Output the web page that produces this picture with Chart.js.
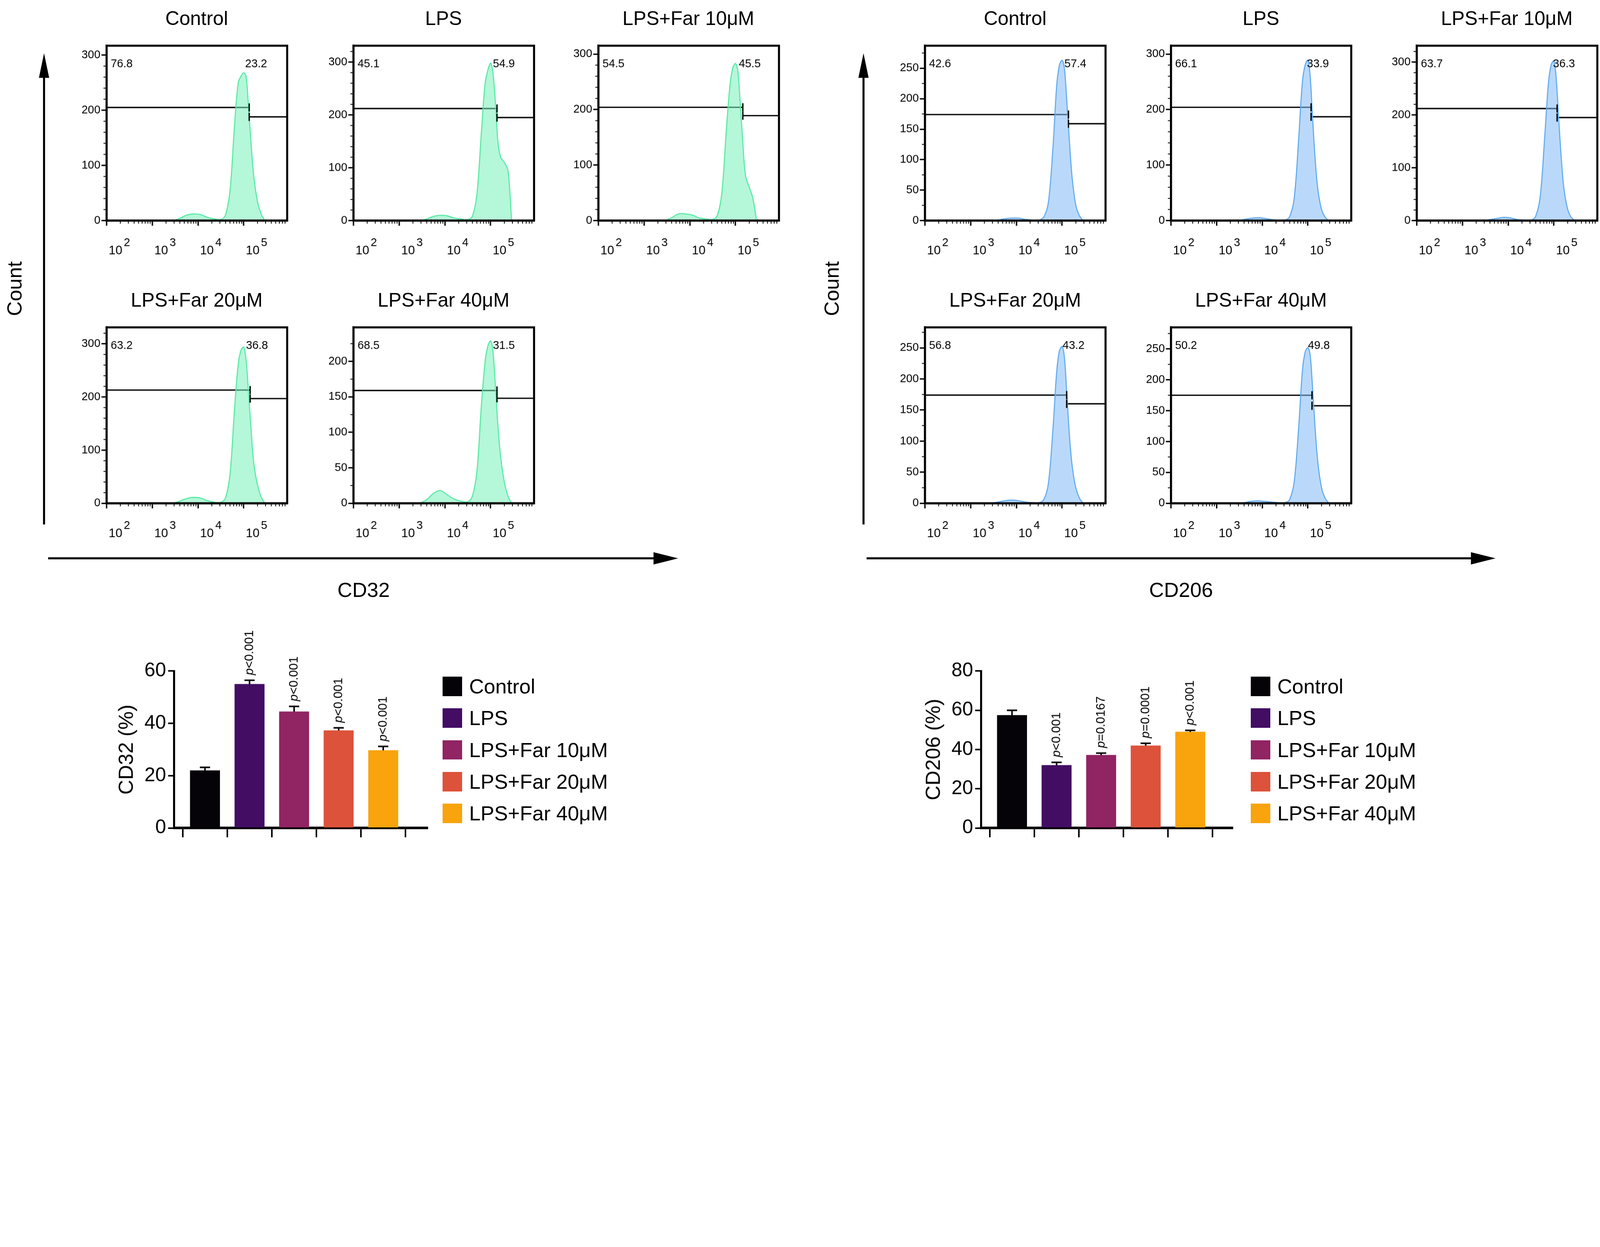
<!DOCTYPE html>
<html>
<head>
<meta charset="utf-8">
<script src="https://cdn.jsdelivr.net/npm/chart.js@4"></script>
<style>
  html, body { margin: 0; padding: 0; background: #fff; overflow: hidden; }
  body { position: relative; font-family: "Liberation Sans", Arial, sans-serif; color: #000; }
  .box { position: absolute; }
  .txt { position: absolute; white-space: nowrap; }
</style>
</head>
<body>
<svg id="arrows" style="position:absolute;left:0;top:0"></svg>
<script>
// reference drawn at 1562 x 820; scale to the real CSS viewport
const S = window.innerWidth / 1562;
const px = v => v * S;
const pageH = Math.round(window.innerWidth * 3192 / 6072);
document.documentElement.style.height = pageH + 'px';
document.body.style.width = window.innerWidth + 'px';
document.body.style.height = pageH + 'px';

// ---- histogram data (x in log10 units) ----
const histX = [3.45, 3.6, 3.75, 3.9, 4.05, 4.2, 4.35, 4.5, 4.6, 4.7, 4.8, 4.88, 4.94, 5.0, 5.05, 5.1, 5.16, 5.22, 5.3, 5.38, 5.46];
const groups = ['Control', 'LPS', 'LPS+Far 10μM', 'LPS+Far 20μM', 'LPS+Far 40μM'];

const cd32Counts = [
  [0, 4, 10, 12, 11, 6, 3, 2, 10, 55, 175, 250, 262, 268, 262, 212, 140, 80, 35, 12, 0],
  [0, 3, 8, 10, 9, 5, 3, 2, 8, 50, 170, 260, 285, 298, 280, 230, 150, 120, 110, 95, 0],
  [0, 5, 12, 12, 10, 5, 3, 2, 9, 50, 165, 245, 275, 283, 270, 215, 140, 80, 60, 40, 0],
  [0, 4, 9, 11, 10, 5, 2, 2, 10, 55, 180, 262, 288, 294, 270, 215, 140, 75, 35, 12, 0],
  [0, 5, 14, 18, 12, 6, 3, 2, 10, 45, 140, 200, 222, 229, 215, 170, 110, 65, 30, 10, 0]
];
const cd32Left = ['76.8', '45.1', '54.5', '63.2', '68.5'];
const cd32Right = ['23.2', '54.9', '45.5', '36.8', '31.5'];
const cd32Max = [317, 331, 315, 331, 248];
const cd32Step = [100, 100, 100, 100, 50];
const cd32GateX = [5.12, 5.14, 5.16, 5.14, 5.14];
const cd32GateL = [205, 212, 204, 213, 159];
const cd32GateR = [188, 195, 189, 197, 148];

const cd206Counts = [
  [0, 1, 3, 4, 4, 2, 1, 1, 6, 30, 120, 220, 255, 263, 250, 200, 130, 70, 25, 8, 0],
  [0, 2, 4, 5, 4, 2, 1, 1, 7, 40, 150, 250, 280, 289, 260, 190, 110, 55, 20, 6, 0],
  [0, 2, 4, 6, 5, 2, 1, 1, 8, 45, 160, 260, 295, 302, 270, 200, 120, 60, 22, 6, 0],
  [0, 2, 4, 5, 4, 2, 1, 1, 6, 32, 120, 210, 245, 252, 235, 180, 110, 60, 25, 8, 0],
  [0, 1, 3, 4, 3, 2, 1, 1, 6, 35, 125, 215, 245, 252, 240, 190, 120, 65, 25, 8, 0]
];
const cd206Left = ['42.6', '66.1', '63.7', '56.8', '50.2'];
const cd206Right = ['57.4', '33.9', '36.3', '43.2', '49.8'];
const cd206Max = [287, 315, 331, 283, 285];
const cd206Step = [50, 100, 100, 50, 50];
const cd206GateX = [5.14, 5.07, 5.07, 5.10, 5.09];
const cd206GateL = [174, 204, 212, 174, 175];
const cd206GateR = [159, 187, 195, 160, 158];

const xDecades = [2, 3, 4, 5];

// ---- bar data ----
const cd32Pct = [22, 55, 44.5, 37.3, 29.7];
const cd32Err = [1.2, 1.5, 2.0, 1.0, 1.5];
const cd32P = ['<0.001', '<0.001', '<0.001', '<0.001'];
const cd206Pct = [57.5, 32, 37.2, 42, 49];
const cd206Err = [2.5, 1.5, 1.0, 1.2, 0.8];
const cd206P = ['<0.001', '=0.0167', '=0.0001', '<0.001'];
const barColors = ['#050308', '#420d63', '#912463', '#dd523a', '#f9a30d'];

const FONT = '"Liberation Sans", Arial, sans-serif';

function addDiv(cls, left, top, w, h) {
  const d = document.createElement('div');
  d.className = cls;
  d.style.left = left + 'px'; d.style.top = top + 'px';
  if (w) d.style.width = w + 'px';
  if (h) d.style.height = h + 'px';
  document.body.appendChild(d);
  return d;
}
function addText(str, cx, cy, size, rotate) {
  const d = addDiv('txt', px(cx), px(cy));
  d.textContent = str;
  d.style.fontSize = px(size) + 'px';
  d.style.transform = 'translate(-50%,-50%)' + (rotate ? ' rotate(-90deg)' : '');
  return d;
}

// ---- histogram panel ----
const histPlugin = {
  id: 'histDeco',
  afterDraw(chart) {
    const o = chart.options.plugins.histDeco;
    const { ctx, chartArea: a, scales: { x, y } } = chart;
    ctx.save();
    ctx.strokeStyle = '#000';
    ctx.lineWidth = px(2);
    ctx.strokeRect(a.left, a.top, a.right - a.left, a.bottom - a.top);
    // minor ticks
    ctx.lineWidth = px(0.8);
    const minor = o.step === 100 ? 20 : 25;
    for (let v = minor; v < y.max; v += minor) {
      if (v % o.step === 0) continue;
      const yy = y.getPixelForValue(v);
      ctx.beginPath(); ctx.moveTo(a.left - px(3), yy); ctx.lineTo(a.left, yy); ctx.stroke();
    }
    for (let d = 2; d < 6; d++) {
      for (let m = 2; m <= 9; m++) {
        const lv = d + Math.log10(m);
        if (lv > x.max) break;
        const xx = x.getPixelForValue(lv);
        ctx.beginPath(); ctx.moveTo(xx, a.bottom); ctx.lineTo(xx, a.bottom + px(3)); ctx.stroke();
      }
    }
    // x labels 10^n
    ctx.fillStyle = '#000';
    ctx.textBaseline = 'alphabetic';
    xDecades.forEach(d => {
      const xx = x.getPixelForValue(d);
      ctx.font = px(12) + 'px ' + FONT;
      ctx.textAlign = 'left';
      ctx.fillText('10', xx + px(2), a.bottom + px(33));
      const w = ctx.measureText('10').width;
      ctx.font = px(11) + 'px ' + FONT;
      ctx.fillText(String(d), xx + px(2) + w + px(1.5), a.bottom + px(25));
    });
    // gate ticks
    ctx.lineWidth = px(1.3);
    const gx = x.getPixelForValue(o.gateX);
    [o.gateL, o.gateR].forEach(g => {
      const gy = y.getPixelForValue(g);
      ctx.beginPath(); ctx.moveTo(gx, gy - px(4)); ctx.lineTo(gx, gy + px(4)); ctx.stroke();
    });
    // percentages
    ctx.font = px(11) + 'px ' + FONT;
    ctx.textAlign = 'left';
    ctx.fillText(o.left, a.left + px(4), a.top + px(21));
    ctx.fillText(o.right, gx - px(4), a.top + px(21));
    ctx.restore();
  }
};

function histPanel(title, boxL, boxT, boxR, boxB, counts, max, step, gateX, gateL, gateR, lt, rt, fillCol, lineCol) {
  const left = boxL - 30, top = boxT - 6;
  const div = addDiv('box', px(left), px(top), px(boxR - left + 6), px(boxB - top + 42));
  const cv = document.createElement('canvas');
  div.appendChild(cv);
  addText(title, (boxL + boxR) / 2, boxT - 25, 19);
  new Chart(cv, {
    type: 'line',
    data: {
      datasets: [
        { data: histX.map((x, i) => ({ x, y: counts[i] })), fill: 'origin', backgroundColor: fillCol,
          borderColor: lineCol, borderWidth: px(1), pointRadius: 0, tension: 0.35 },
        { data: [{ x: 2, y: gateL }, { x: gateX, y: gateL }], borderColor: '#000', borderWidth: px(1.3), pointRadius: 0 },
        { data: [{ x: gateX, y: gateR }, { x: 5.95, y: gateR }], borderColor: '#000', borderWidth: px(1.3), pointRadius: 0 }
      ]
    },
    options: {
      responsive: true, maintainAspectRatio: false, animation: false,
      layout: { padding: { top: px(6), right: px(6), left: 0, bottom: 0 } },
      plugins: {
        legend: { display: false }, tooltip: { enabled: false },
        histDeco: { step, gateX, gateL, gateR, left: lt, right: rt }
      },
      scales: {
        x: {
          type: 'linear', min: 2, max: 5.95,
          afterBuildTicks: s => { s.ticks = xDecades.map(v => ({ value: v })); },
          afterFit: s => { s.height = px(42); },
          ticks: { callback: () => '' },
          grid: { drawOnChartArea: false, color: '#000', tickLength: px(5), lineWidth: px(1.3) },
          border: { color: '#000', width: px(2) }
        },
        y: {
          min: 0, max,
          afterBuildTicks: s => { const t = []; for (let v = 0; v <= max; v += step) t.push({ value: v }); s.ticks = t; },
          afterFit: s => { s.width = px(30); },
          ticks: { color: '#000', font: { family: FONT, size: px(11) }, padding: px(1) },
          grid: { drawOnChartArea: false, color: '#000', tickLength: px(5), lineWidth: px(1.3) },
          border: { color: '#000', width: px(2) }
        }
      }
    },
    plugins: [histPlugin]
  });
}

const leftCols = [[104, 280], [345, 521], [584, 760], [104, 280], [345, 521]];
const rightCols = [[903, 1079], [1143, 1319], [1383, 1559], [903, 1079], [1143, 1319]];
const rows = [[43, 215], [43, 215], [43, 215], [318, 491], [318, 491]];
const greenFill = 'rgba(120,240,185,0.55)', greenLine = '#4fe8a0';
const blueFill = 'rgba(130,185,245,0.55)', blueLine = '#5aa7ef';

groups.forEach((g, i) => {
  histPanel(g, leftCols[i][0], rows[i][0], leftCols[i][1], rows[i][1], cd32Counts[i], cd32Max[i], cd32Step[i],
    cd32GateX[i], cd32GateL[i], cd32GateR[i], cd32Left[i], cd32Right[i], greenFill, greenLine);
  histPanel(g, rightCols[i][0], rows[i][0], rightCols[i][1], rows[i][1], cd206Counts[i], cd206Max[i], cd206Step[i],
    cd206GateX[i], cd206GateL[i], cd206GateR[i], cd206Left[i], cd206Right[i], blueFill, blueLine);
});

// ---- arrows and axis words ----
const svg = document.getElementById('arrows');
svg.setAttribute('width', window.innerWidth);
svg.setAttribute('height', pageH);
function arrow(x1, y1, x2, y2) {
  const ns = 'http://www.w3.org/2000/svg';
  const l = document.createElementNS(ns, 'line');
  const dx = Math.sign(x2 - x1), dy = Math.sign(y2 - y1);
  l.setAttribute('x1', px(x1)); l.setAttribute('y1', px(y1));
  l.setAttribute('x2', px(x2 - dx * 20)); l.setAttribute('y2', px(y2 - dy * 20));
  l.setAttribute('stroke', '#000'); l.setAttribute('stroke-width', px(2));
  svg.appendChild(l);
  const p = document.createElementNS(ns, 'polygon');
  let pts;
  if (dx) pts = [[x2, y2], [x2 - dx * 24, y2 - 6], [x2 - dx * 24, y2 + 6]];
  else pts = [[x2, y2], [x2 - 5, y2 - dy * 24], [x2 + 5, y2 - dy * 24]];
  p.setAttribute('points', pts.map(q => px(q[0]) + ',' + px(q[1])).join(' '));
  p.setAttribute('fill', '#000');
  svg.appendChild(p);
}
arrow(43, 512, 43, 52);
arrow(47, 545, 662, 545);
arrow(843, 512, 843, 52);
arrow(846, 545, 1460, 545);
addText('Count', 14, 282, 20, true);
addText('Count', 812, 282, 20, true);
addText('CD32', 355, 576, 20);
addText('CD206', 1153, 576, 20);

// ---- bar charts ----
const errPlugin = {
  id: 'errDeco',
  afterDatasetsDraw(chart) {
    const o = chart.options.plugins.errDeco;
    const { ctx, scales: { x, y } } = chart;
    ctx.save();
    ctx.strokeStyle = '#000';
    ctx.fillStyle = '#000';
    ctx.lineWidth = px(1.5);
    o.values.forEach((v, i) => {
      const xx = x.getPixelForValue(i);
      const yb = y.getPixelForValue(v), yt = y.getPixelForValue(v + o.err[i]);
      ctx.beginPath();
      ctx.moveTo(xx, yb); ctx.lineTo(xx, yt);
      ctx.moveTo(xx - px(5), yt); ctx.lineTo(xx + px(5), yt);
      ctx.stroke();
      if (i > 0) {
        ctx.save();
        ctx.translate(xx, yt - px(5));
        ctx.rotate(-Math.PI / 2);
        ctx.textAlign = 'left'; ctx.textBaseline = 'middle';
        ctx.font = 'italic ' + px(12) + 'px ' + FONT;
        ctx.fillText('p', 0, 0);
        const w = ctx.measureText('p').width;
        ctx.font = px(12) + 'px ' + FONT;
        ctx.fillText(o.p[i - 1], w, 0);
        ctx.restore();
      }
    });
    ctx.restore();
  }
};

function barChart(axisX, plotR, yMax, yStep, values, err, pvals, label, legendX) {
  const left = axisX - 58, top = 590, bottom = 822;
  const div = addDiv('box', px(left), px(top), px(plotR - left), px(bottom - top));
  const cv = document.createElement('canvas');
  div.appendChild(cv);
  const firstC = axisX + 30, spacing = 43.5;
  new Chart(cv, {
    type: 'bar',
    data: {
      datasets: [{
        data: values.map((v, i) => ({ x: i, y: v })),
        backgroundColor: barColors, borderWidth: 0,
        barThickness: px(29)
      }]
    },
    options: {
      responsive: true, maintainAspectRatio: false, animation: false,
      layout: { padding: { top: px(65), right: 0, left: 0, bottom: 0 } },
      plugins: { legend: { display: false }, tooltip: { enabled: false },
        errDeco: { values, err, p: pvals } },
      scales: {
        x: {
          type: 'linear', offset: false,
          min: -(firstC - axisX) / spacing, max: 4 + (plotR - (firstC + 4 * spacing)) / spacing,
          afterBuildTicks: s => { s.ticks = values.map((v, i) => ({ value: i })); },
          afterFit: s => { s.height = px(14); },
          ticks: { callback: () => '' },
          grid: { drawOnChartArea: false, color: '#000', tickLength: px(9), lineWidth: px(1.5) },
          border: { color: '#000', width: px(2.5) }
        },
        y: {
          min: 0, max: yMax,
          afterBuildTicks: s => { const t = []; for (let v = 0; v <= yMax; v += yStep) t.push({ value: v }); s.ticks = t; },
          afterFit: s => { s.width = px(58); },
          ticks: { color: '#000', font: { family: FONT, size: px(19) }, padding: px(2) },
          title: { display: true, text: label, color: '#000', font: { family: FONT, size: px(20) }, padding: 0 },
          grid: { drawOnChartArea: false, color: '#000', tickLength: px(6), lineWidth: px(1.5) },
          border: { color: '#000', width: px(2) }
        }
      }
    },
    plugins: [errPlugin]
  });
  groups.forEach((g, i) => {
    const cy = 670 + i * 31;
    const sq = addDiv('box', px(legendX), px(cy - 9.5), px(19), px(19));
    sq.style.background = barColors[i];
    const t = addDiv('txt', px(legendX + 26), px(cy));
    t.textContent = g;
    t.style.fontSize = px(20) + 'px';
    t.style.transform = 'translateY(-50%)';
  });
}

barChart(170, 418, 60, 20, cd32Pct, cd32Err, cd32P, 'CD32 (%)', 432);
barChart(958, 1204, 80, 20, cd206Pct, cd206Err, cd206P, 'CD206 (%)', 1221);
</script>
</body>
</html>
